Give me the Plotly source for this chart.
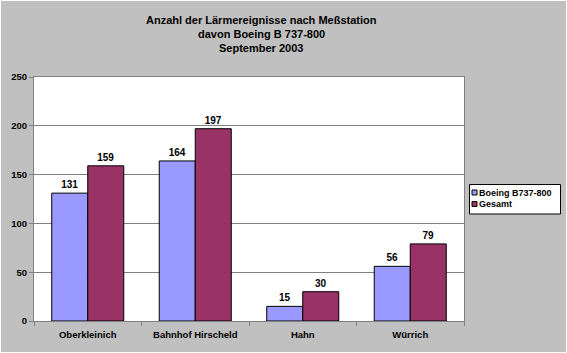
import plotly.graph_objects as go

stations = ["Oberkleinich", "Bahnhof Hirscheld", "Hahn", "Würrich"]
boeing = [131, 164, 15, 56]
gesamt = [159, 197, 30, 79]
series_names = ["Boeing B737-800", "Gesamt"]
series_colors = ["#9999FF", "#993366"]
title_lines = ["Anzahl der Lärmereignisse nach Meßstation", "davon Boeing B 737-800", "September 2003"]

W, H = 567, 353
L, R, T, B = 34, 103, 77, 32
FONT = "Liberation Sans, Arial, sans-serif"

fig = go.Figure()
for name, vals, col in zip(series_names, [boeing, gesamt], series_colors):
    fig.add_trace(go.Bar(
        x=stations, y=vals, name=name,
        marker=dict(color=col, line=dict(color="#000000", width=1)),
        text=[f"<b>{v}</b>" for v in vals], textposition="outside", cliponaxis=False,
        textfont=dict(size=10, color="#000000", family=FONT),
        showlegend=False,
    ))

pw, ph = W - L - R, H - T - B
def px_x(p):
    return (p - L) / pw
def px_y(p):
    return (H - B - p) / ph

shapes = [dict(
    type="rect", xref="paper", yref="paper",
    x0=px_x(0.5), x1=px_x(W - 0.5), y0=px_y(H - 0.5), y1=px_y(0.5),
    line=dict(color="#FFFFFF", width=1), layer="above",
)]
annotations = []

# title lines
for line, ypx in zip(title_lines, [20, 34.5, 48.5]):
    annotations.append(dict(
        text=f"<b>{line}</b>", xref="paper", yref="paper",
        x=px_x(261), y=px_y(ypx), xanchor="center", yanchor="middle",
        showarrow=False, font=dict(size=11, family=FONT, color="#000000"),
    ))

# legend box
shapes.append(dict(
    type="rect", xref="paper", yref="paper",
    x0=px_x(469.5), x1=px_x(560.5), y0=px_y(214), y1=px_y(184.5),
    line=dict(color="#000000", width=1), fillcolor="#FFFFFF", layer="above",
))
for name, col, ypx in zip(series_names, series_colors, [192.5, 204]):
    shapes.append(dict(
        type="rect", xref="paper", yref="paper",
        x0=px_x(472), x1=px_x(477), y0=px_y(ypx + 2.5), y1=px_y(ypx - 2.5),
        line=dict(color="#000000", width=1), fillcolor=col, layer="above",
    ))
    annotations.append(dict(
        text=f"<b>{name}</b>", xref="paper", yref="paper",
        x=px_x(478), y=px_y(ypx), xanchor="left", yanchor="middle",
        showarrow=False, font=dict(size=9, family=FONT, color="#000000"),
        borderpad=0,
    ))

fig.update_layout(
    width=W, height=H,
    margin=dict(l=L, r=R, t=T, b=B, pad=0, autoexpand=False),
    paper_bgcolor="#C0C0C0",
    plot_bgcolor="#FFFFFF",
    barmode="group",
    bargap=0.33,
    bargroupgap=0,
    font=dict(family=FONT, size=10, color="#000000"),
    showlegend=False,
    xaxis=dict(
        type="category",
        tickson="boundaries",
        ticks="outside", ticklen=4, tickcolor="#808080", tickwidth=1,
        showline=True, linecolor="#808080", linewidth=1, mirror=True,
        showgrid=False,
        ticklabelstandoff=5,
        tickvals=stations,
        ticktext=[f"<b>{s}</b>" for s in stations],
        tickfont=dict(size=9.5, family=FONT, color="#000000"),
    ),
    yaxis=dict(
        range=[0, 250],
        tickvals=[0, 50, 100, 150, 200, 250],
        ticktext=[f"<b>{v}</b>" for v in [0, 50, 100, 150, 200, 250]],
        ticks="outside", ticklen=4, tickcolor="#808080", tickwidth=1,
        showline=True, linecolor="#808080", linewidth=1, mirror=True,
        showgrid=True, gridcolor="#808080", gridwidth=1,
        zeroline=False,
        tickfont=dict(size=9.5, family=FONT, color="#000000"),
    ),
    shapes=shapes,
    annotations=annotations,
)

fig.write_html("out.html")
